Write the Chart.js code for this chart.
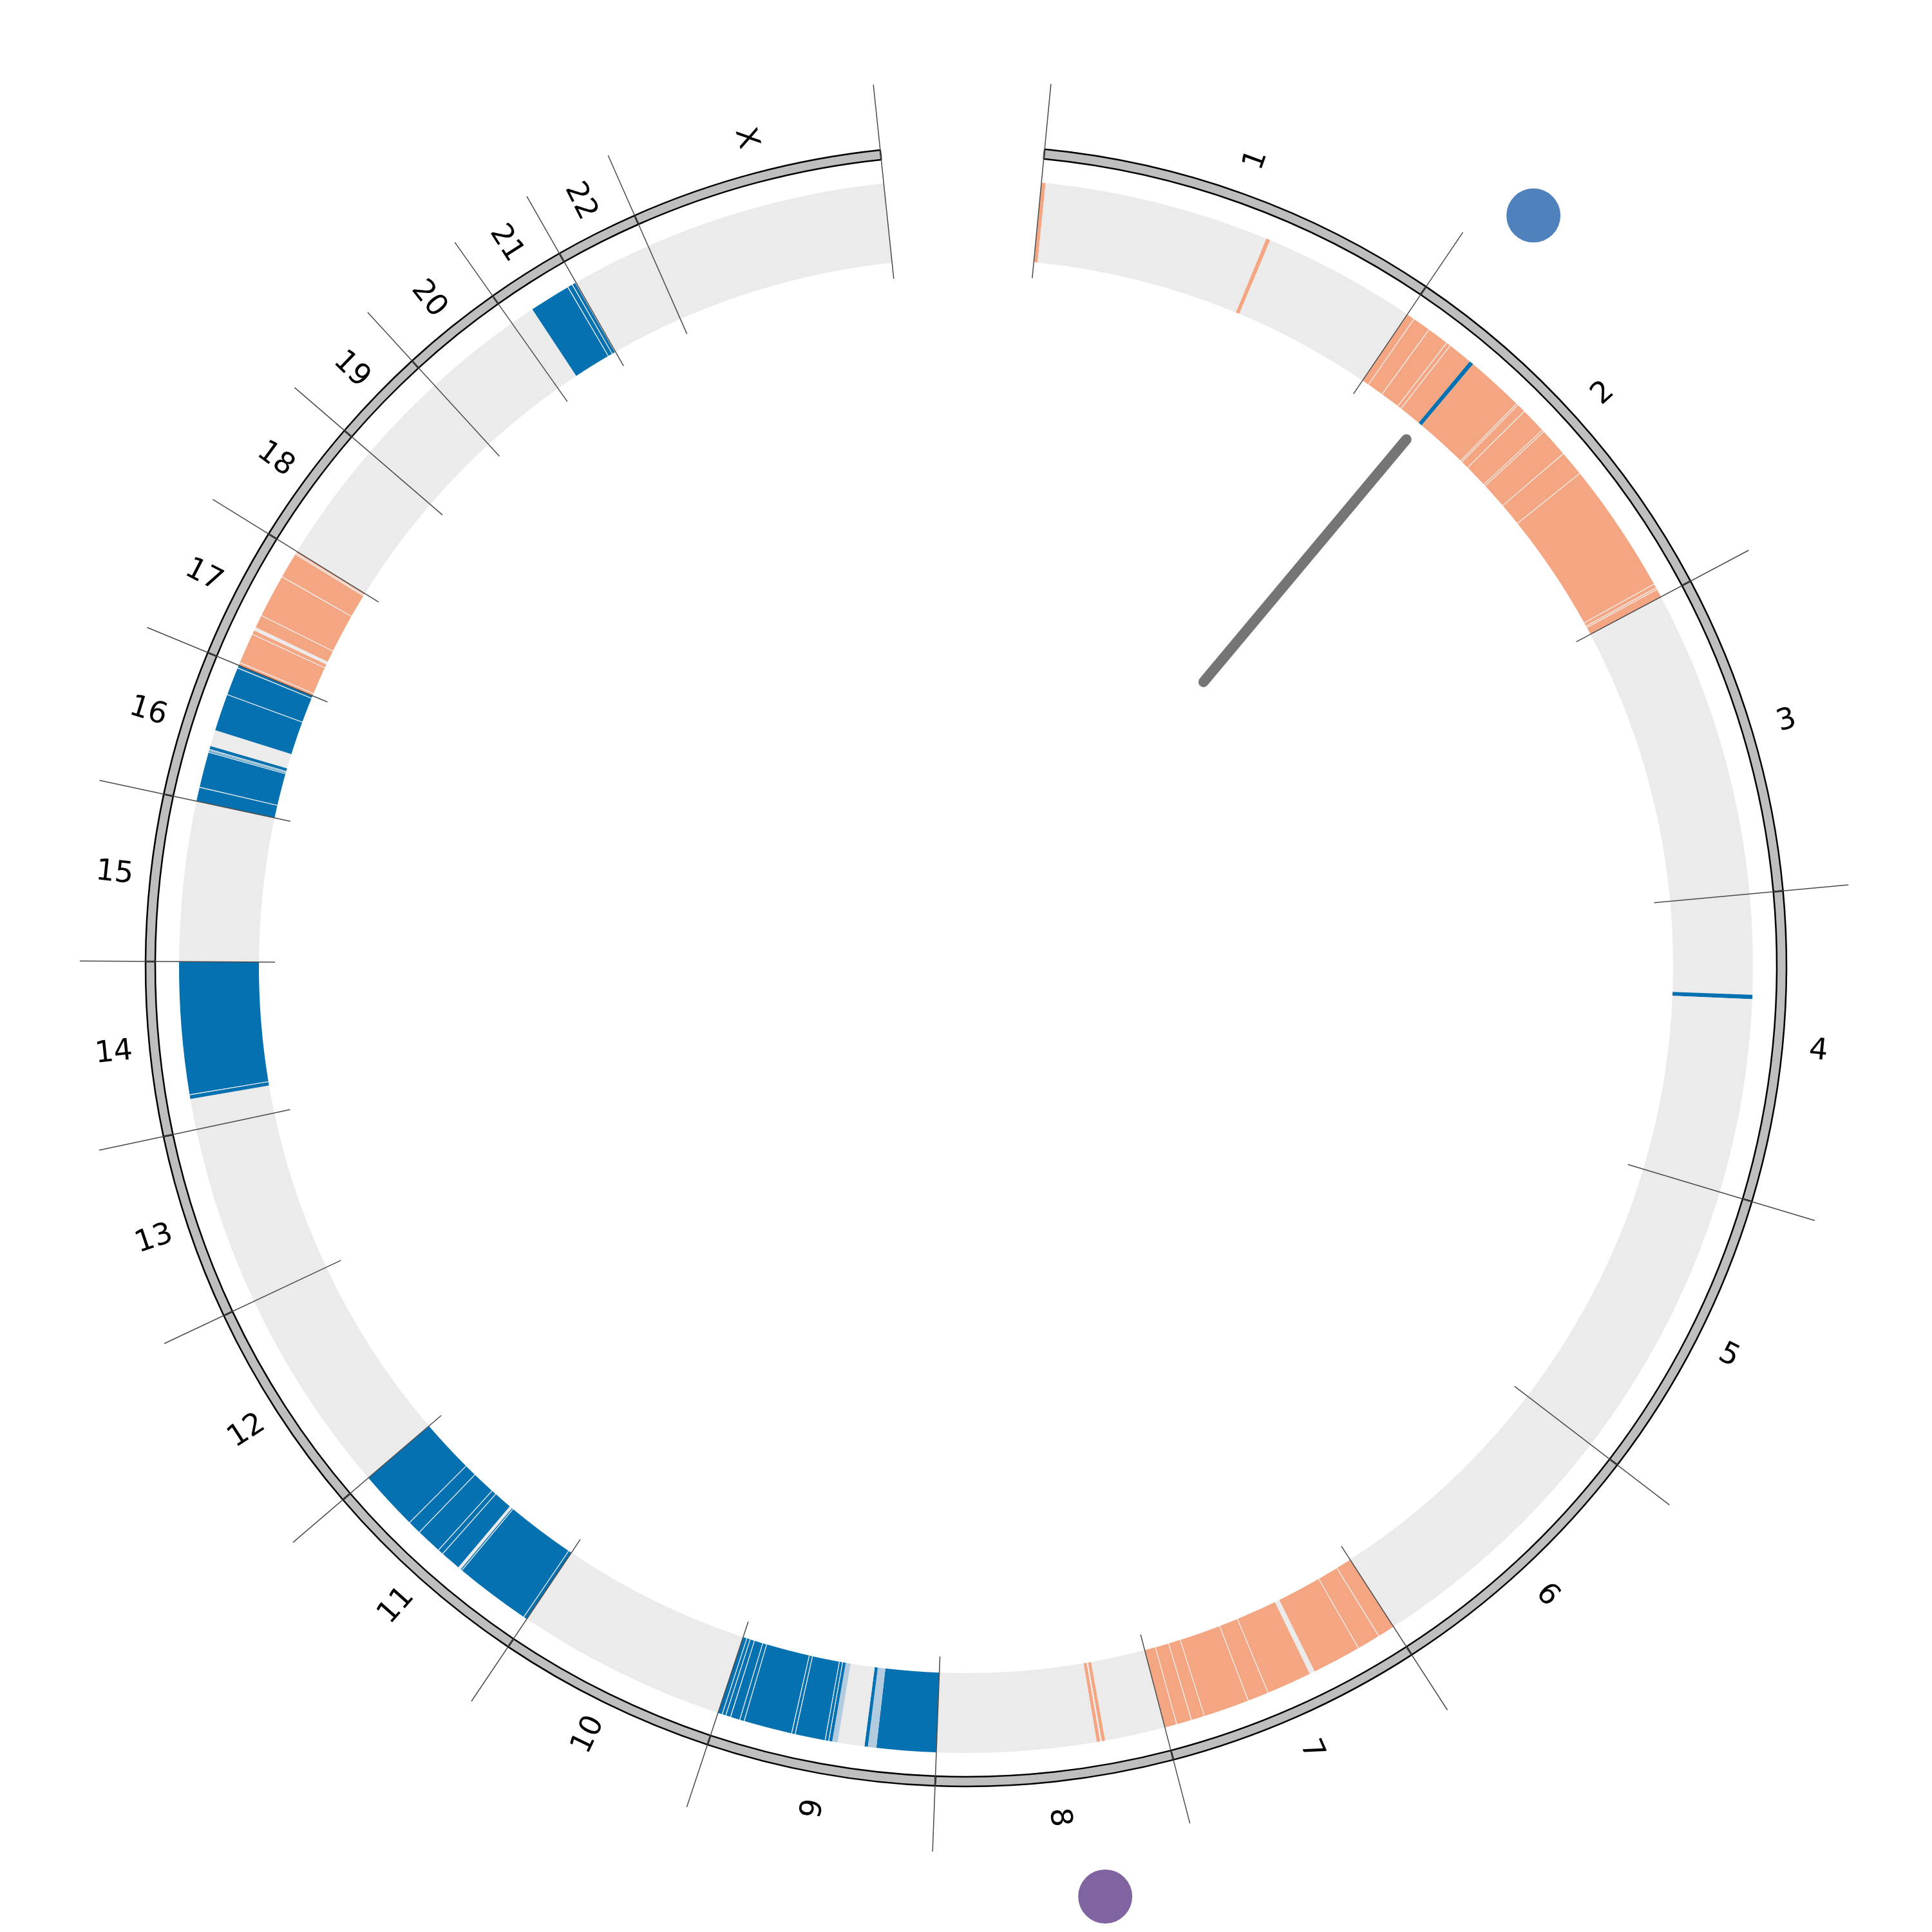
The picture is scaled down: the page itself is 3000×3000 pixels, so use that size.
<!DOCTYPE html>
<html>
<head>
<meta charset="utf-8">
<script src="https://cdn.jsdelivr.net/npm/chart.js@4.4.0/dist/chart.umd.min.js"></script>
<style>
  html, body { margin: 0; padding: 0; background: #fff; }
  #wrap { position: relative; width: 3000px; height: 3000px; }
  #wrap canvas { position: absolute; left: 0; top: 0; }
</style>
</head>
<body>
<div id="wrap">
  <canvas id="rings" width="3000" height="3000"></canvas>
  <canvas id="overlay" width="3000" height="3000"></canvas>
</div>
<script>
// chromosomes (Mb)
const chromNames = ['1','2','3','4','5','6','7','8','9','10','11','12','13','14','15','16','17','18','19','20','21','22','X'];
const chromLengths = [249.25,243.2,198.02,191.15,180.92,171.12,159.14,146.36,141.21,135.53,135.01,133.85,115.17,107.35,102.53,90.35,81.2,78.08,59.13,63.03,48.13,51.3,155.27];
const gapMb = 100.2;      // empty wedge at the top
const startAngle = 5.5;   // degrees, where chr1 starts

// copy number segments: [chrom, start Mb, end Mb]
const gains = [
  ['1',0.2,2.7],['1',147.6,150.2],
  ['2',0.1,4.9],['2',5.4,16.6],['2',17.1,30.6],['2',31.1,33.4],['2',33.9,49.6],['2',52.4,89.4],['2',89.9,90.6],
  ['2',91.1,96.3],['2',96.8,112.8],['2',113.3,114.2],['2',114.7,132.8],['2',133.3,149.1],['2',149.6,233.8],
  ['2',234.3,236.4],['2',236.9,237.6],['2',238.1,243.1],
  ['7',0.1,10.8],['7',11.3,25.8],['7',26.3,57.6],['7',61.0,89.8],['7',90.3,103.3],['7',103.8,132.8],
  ['7',133.3,141.4],['7',141.9,151.1],['7',151.6,159.1],
  ['8',38.8,41.0],['8',42.0,44.2],
  ['17',0.1,1.6],['17',2.1,21.3],['17',21.8,24.2],['17',26.4,34.5],['17',35.0,62.3],['17',62.8,79.0],
  ['17',79.5,79.8],['17',80.3,81.1]
];
const losses = [
  ['2',49.6,52.4],['4',64.0,66.8],
  ['9',0.1,38.2],['9',43.6,45.8],['9',66.5,68.5],['9',69.0,70.8],['9',71.3,90.2],['9',90.7,92.5],['9',93.0,123.6],
  ['9',124.1,126.5],['9',127.0,132.6],['9',133.1,135.8],['9',136.3,138.2],['9',138.7,141.1],
  ['11',0.1,2.1],['11',2.6,51.3],['11',51.8,52.5],['11',54.5,67.4],['11',67.9,70.9],['11',71.4,87.5],
  ['11',88.0,96.2],['11',96.7,134.9],
  ['14',19.8,22.3],['14',22.8,107.3],
  ['16',0.1,8.8],['16',9.3,31.8],['16',32.3,32.8],['16',33.3,33.6],['16',34.1,36.1],['16',46.6,70.2],
  ['16',70.7,88.3],['16',88.8,90.3],
  ['21',15.6,42.0],['21',42.5,45.2],['21',45.7,47.6]
];
const partialLosses = [['9',38.2,43.6],['9',63.0,66.5]];

// link and point markers
const linkChrom = '2';
const linkPos = 50.5;
const markerChroms = ['2','8'];
const markerPos = [26.0, 53.4];

// styles / radii (px)
const ringOuter = 1274, ringInner = 1259, bandOuter = 1222, bandInner = 1098;
const tickInner = 1073, tickOuter = 1376, labelRadius = 1330;
const linkRadii = [575, 1066], markerRadius = 1461;
const colBand = '#ebebeb', colGain = '#f4a582', colLoss = '#0571b0', colPartial = '#b3cbdf';
const markerColors = ['#4f81bd', '#8064a2'];

const offsets = {};
let acc = 0;
chromNames.forEach((c, i) => { offsets[c] = acc; acc += chromLengths[i]; });
const genomeTotal = acc;
const fullTotal = genomeTotal + gapMb;

// band track built from the segments
const segs = [
  ...gains.map(r => [offsets[r[0]] + r[1], offsets[r[0]] + r[2], colGain]),
  ...losses.map(r => [offsets[r[0]] + r[1], offsets[r[0]] + r[2], colLoss]),
  ...partialLosses.map(r => [offsets[r[0]] + r[1], offsets[r[0]] + r[2], colPartial])
].sort((a, b) => a[0] - b[0]);
const bandData = [], bandColors = [];
let pos = 0;
segs.forEach(s => {
  const st = Math.max(s[0], pos);
  if (st > pos) { bandData.push(st - pos); bandColors.push(colBand); }
  bandData.push(s[1] - st); bandColors.push(s[2]);
  pos = s[1];
});
bandData.push(genomeTotal - pos); bandColors.push(colBand);
bandData.push(gapMb); bandColors.push('rgba(0,0,0,0)');

new Chart(document.getElementById('rings'), {
  type: 'doughnut',
  data: {
    datasets: [
      {
        data: [...chromLengths, gapMb],
        backgroundColor: [...chromLengths.map(() => '#bebebe'), 'rgba(0,0,0,0)'],
        borderColor: '#000',
        borderWidth: [...chromLengths.map(() => 2.5), 0],
        weight: ringOuter - ringInner
      },
      { data: [fullTotal], backgroundColor: 'rgba(0,0,0,0)', borderWidth: 0, weight: ringInner - bandOuter },
      { data: bandData, backgroundColor: bandColors, borderWidth: 0, weight: bandOuter - bandInner }
    ]
  },
  options: {
    responsive: false,
    animation: false,
    devicePixelRatio: 1,
    events: [],
    rotation: startAngle,
    radius: ringOuter,
    cutout: (bandInner / ringOuter * 100) + '%',
    plugins: { legend: { display: false }, tooltip: { enabled: false } }
  }
});

// overlay: ticks, link, markers, labels
const angleAt = g => startAngle + g / fullTotal * 360;
const polar = (r, deg) => ({ x: r * Math.sin(deg * Math.PI / 180), y: r * Math.cos(deg * Math.PI / 180) });

const overlaySets = [];
for (let i = 0; i <= chromNames.length; i++) {
  const g = i < chromNames.length ? offsets[chromNames[i]] : genomeTotal;
  const deg = angleAt(g);
  overlaySets.push({
    data: [polar(tickInner, deg), polar(tickOuter, deg)],
    showLine: true, borderColor: '#4a4a4a', borderWidth: 1.5, pointRadius: 0
  });
}
const linkDeg = angleAt(offsets[linkChrom] + linkPos);
overlaySets.push({
  data: linkRadii.map(r => polar(r, linkDeg)),
  showLine: true, borderColor: '#757575', borderWidth: 16, borderCapStyle: 'round', pointRadius: 0
});
overlaySets.push({
  data: markerChroms.map((c, i) => polar(markerRadius, angleAt(offsets[c] + markerPos[i]))),
  pointRadius: 42, pointBackgroundColor: markerColors, pointBorderWidth: 0
});

const labelPlugin = {
  id: 'chromLabels',
  afterDatasetsDraw(chart) {
    const { ctx, scales: { x, y } } = chart;
    ctx.save();
    ctx.font = '46px "DejaVu Sans"';
    ctx.fillStyle = '#000';
    ctx.textAlign = 'center';
    ctx.textBaseline = 'middle';
    chromNames.forEach((name, i) => {
      const deg = angleAt(offsets[name] + chromLengths[i] / 2);
      const p = polar(labelRadius, deg);
      const rot = deg < 180 ? deg - 90 : deg - 270;
      ctx.save();
      ctx.translate(x.getPixelForValue(p.x), y.getPixelForValue(p.y));
      ctx.rotate(rot * Math.PI / 180);
      ctx.fillText(name, 0, 0);
      ctx.restore();
    });
    ctx.restore();
  }
};

new Chart(document.getElementById('overlay'), {
  type: 'scatter',
  data: { datasets: overlaySets },
  options: {
    responsive: false,
    animation: false,
    devicePixelRatio: 1,
    events: [],
    layout: { padding: 0, autoPadding: false },
    scales: {
      x: { type: 'linear', min: -1500, max: 1500, display: false },
      y: { type: 'linear', min: -1500, max: 1500, display: false }
    },
    plugins: { legend: { display: false }, tooltip: { enabled: false } }
  },
  plugins: [labelPlugin]
});
</script>
</body>
</html>
